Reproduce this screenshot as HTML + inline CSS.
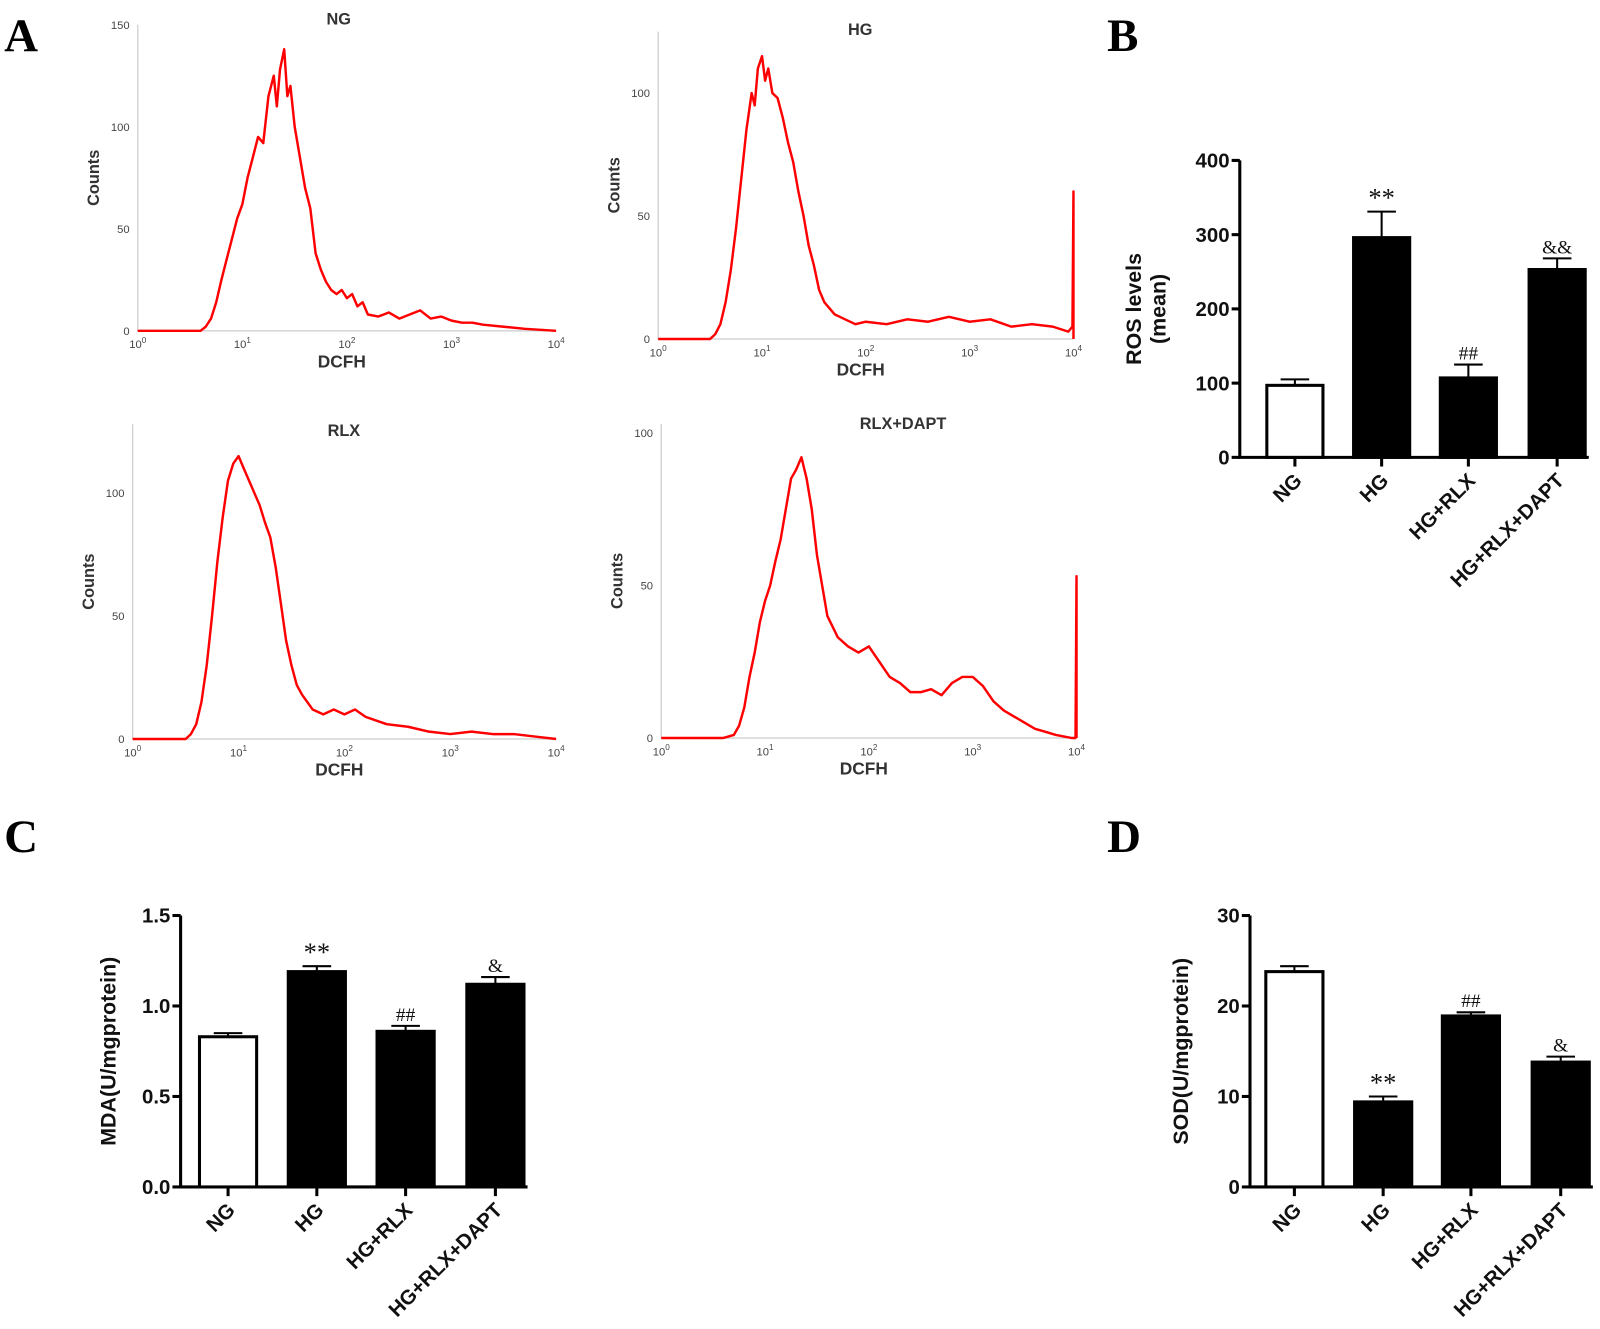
<!DOCTYPE html>
<html><head><meta charset="utf-8"><style>
html,body{margin:0;padding:0;background:#fff;}
svg{display:block;font-family:"Liberation Sans",Arial,sans-serif;}
</style></head><body>
<svg id="fig" width="1600" height="1329" viewBox="0 0 1568 1302" xmlns="http://www.w3.org/2000/svg">
<rect width="1568" height="1302" fill="#fff"/>
<g font-family="Liberation Serif,serif" font-weight="bold" font-size="46">
<text x="4" y="50">A</text>
<text x="1085" y="50">B</text>
<text x="4" y="835">C</text>
<text x="1085" y="835">D</text>
</g>
</svg>
<script>
// ---- histogram data (x in log10 decades, y in counts) ----
const ngX = [0,0.6,0.65,0.7,0.75,0.8,0.85,0.9,0.95,1.0,1.05,1.1,1.15,1.2,1.25,1.3,1.33,1.36,1.4,1.43,1.46,1.5,1.55,1.6,1.65,1.7,1.75,1.8,1.85,1.9,1.95,2.0,2.05,2.1,2.15,2.2,2.3,2.4,2.5,2.6,2.7,2.8,2.9,3.0,3.1,3.2,3.3,3.5,3.7,4.0];
const ngY = [0,0,2,6,14,25,35,45,55,62,75,85,95,92,115,125,110,128,138,115,120,100,85,70,60,38,30,24,20,18,20,16,18,12,14,8,7,9,6,8,10,6,7,5,4,4,3,2,1,0];
const hgX = [0,0.5,0.55,0.6,0.65,0.7,0.75,0.8,0.85,0.9,0.93,0.96,1.0,1.03,1.06,1.1,1.15,1.2,1.25,1.3,1.35,1.4,1.45,1.5,1.55,1.6,1.7,1.8,1.9,2.0,2.2,2.4,2.6,2.8,3.0,3.2,3.4,3.6,3.8,3.95,3.99,4.0,4.0];
const hgY = [0,0,2,6,15,28,45,65,85,100,95,110,115,105,110,100,98,90,80,72,60,50,38,30,20,15,10,8,6,7,6,8,7,9,7,8,5,6,5,3,5,60,0];
const rlxX = [0,0.5,0.55,0.6,0.65,0.7,0.75,0.8,0.85,0.9,0.95,1.0,1.05,1.1,1.15,1.2,1.25,1.3,1.35,1.4,1.45,1.5,1.55,1.6,1.7,1.8,1.9,2.0,2.1,2.2,2.4,2.6,2.8,3.0,3.2,3.4,3.6,3.8,4.0];
const rlxY = [0,0,2,6,15,30,50,72,90,105,112,115,110,105,100,95,88,82,70,55,40,30,22,18,12,10,12,10,12,9,6,5,3,2,3,2,2,1,0];
const daptX = [0,0.6,0.7,0.75,0.8,0.85,0.9,0.95,1.0,1.05,1.1,1.15,1.2,1.25,1.3,1.35,1.4,1.45,1.5,1.55,1.6,1.7,1.8,1.9,2.0,2.1,2.2,2.3,2.4,2.5,2.6,2.7,2.8,2.9,3.0,3.1,3.2,3.3,3.4,3.5,3.6,3.7,3.8,3.95,3.99,4.0,4.0];
const daptY = [0,0,1,4,10,20,28,38,45,50,58,65,75,85,88,92,85,75,60,50,40,33,30,28,30,25,20,18,15,15,16,14,18,20,20,17,12,9,7,5,3,2,1,0,0,53,0];
// ---- bar chart data ----
const groups = ["NG","HG","HG+RLX","HG+RLX+DAPT"];
const rosVals = [97,296,107,253];
const rosErr = [8,35,18,15];
const rosMarks = ["","**","##","&&"];
const rosTicks = [0,100,200,300,400];
const mdaVals = [0.83,1.19,0.86,1.12];
const mdaErr = [0.02,0.03,0.03,0.04];
const mdaMarks = ["","**","##","&"];
const mdaTicks = ["0.0","0.5","1.0","1.5"];
const sodVals = [23.8,9.4,18.9,13.8];
const sodErr = [0.6,0.6,0.4,0.6];
const sodMarks = ["","**","##","&"];
const sodTicks = [0,10,20,30];
const histTickExp = ["0","1","2","3","4"];

const svg = document.getElementById('fig');
const NS = 'http://www.w3.org/2000/svg';
function mk(tag, attrs, parent){const e=document.createElementNS(NS,tag);for(const k in attrs)e.setAttribute(k,attrs[k]);(parent||svg).appendChild(e);return e;}

function histogram(name,title,xs,ys,x0,x1,y0,yPerCount,ymax,yTicks,titleX,titleY){
  const g=mk('g',{});
  
  
  const sx=v=>x0+(x1-x0)*v/4, sy=v=>y0-v*yPerCount;
  const ax=mk('path',{d:`M${x0},${sy(ymax)} V${y0} H${x1}`,stroke:'#ccc','stroke-width':1.2,fill:'none'},g);
  
  
  yTicks.forEach(t=>{
    const tx=mk('text',{x:x0-8,y:sy(t)+4,'font-size':11,'text-anchor':'end',fill:'#444'},g);tx.textContent=t;
    
    
  });
  histTickExp.forEach((e,i)=>{
    const tx=mk('text',{x:sx(i),y:y0+17,'font-size':11,'text-anchor':'middle',fill:'#444'},g);
    tx.innerHTML='10<tspan dy="-5" font-size="8">'+e+'</tspan>';
    
    
  });
  let d='';xs.forEach((x,i)=>{d+=(i?'L':'M')+sx(x).toFixed(1)+','+sy(ys[i]).toFixed(1);});
  const p=mk('path',{d,stroke:'#f00','stroke-width':2.4,fill:'none','stroke-linejoin':'round'},g);
  
  
  const t=mk('text',{x:titleX,y:titleY,'font-size':16,'font-weight':'bold','text-anchor':'middle',fill:'#333'},g);t.textContent=title;
  
  
  const xl=mk('text',{x:(x0+x1)/2-5,y:y0+36,'font-size':17,'font-weight':'bold','text-anchor':'middle',fill:'#333'},g);xl.textContent='DCFH';
  
  
  const cy=(y0+sy(ymax))/2;
  const yl=mk('text',{x:x0-38,y:cy,'font-size':16,'font-weight':'bold','text-anchor':'middle',fill:'#333',transform:`rotate(-90 ${x0-38} ${cy})`},g);yl.textContent='Counts';
  
  
}
histogram('hist-ng','NG',ngX,ngY,135,545,324,2.0,150,[0,50,100,150],332,24);
histogram('hist-hg','HG',hgX,hgY,645,1052,332,2.41,125,[0,50,100],843,34);
histogram('hist-rlx','RLX',rlxX,rlxY,130,545,724,2.41,128,[0,50,100],337,427);
histogram('hist-rlx-dapt','RLX+DAPT',daptX,daptY,648,1055,723,2.99,103,[0,50,100],885,420);

function barChart(name,vals,errs,marks,ticks,ymaxV,axX,y0,yTop,barL,barW,title,titleX,labelFs){
  const g=mk('g',{});
  
  
  const sy=v=>y0-(y0-yTop)*v/ymaxV;
  const right=barL[3]+barW+2;
  const ax=mk('path',{d:`M${axX},${yTop} V${y0} H${right}`,stroke:'#000','stroke-width':3,fill:'none'},g);
  
  
  ticks.forEach(t=>{
    const v=parseFloat(t);
    mk('line',{x1:axX-8,x2:axX,y1:sy(v),y2:sy(v),stroke:'#000','stroke-width':3},g);
    const tx=mk('text',{x:axX-10,y:sy(v)+7,'font-size':20,'font-weight':'bold','text-anchor':'end',fill:'#111'},g);tx.textContent=t;
    
    
  });
  vals.forEach((v,i)=>{
    const x=barL[i], cx=x+barW/2;
    const ey=sy(v+errs[i]);
    mk('line',{x1:cx,x2:cx,y1:sy(v),y2:ey,stroke:'#000','stroke-width':2},g);
    mk('line',{x1:cx-14,x2:cx+14,y1:ey,y2:ey,stroke:'#000','stroke-width':2},g);
    const r=mk('rect',{x:x+1.5,y:sy(v),width:barW-3,height:y0-sy(v),fill:i===0?'#fff':'#000',stroke:'#000','stroke-width':3},g);
    
    
    mk('line',{x1:cx,x2:cx,y1:y0,y2:y0+9,stroke:'#000','stroke-width':3},g);
    if(marks[i]){
      const m=mk('text',{x:cx,y:ey-5,'font-size':marks[i]==='**'?26:19,'text-anchor':'middle',fill:'#111','font-family':'Liberation Serif,serif'},g);
      m.textContent=marks[i];
      
      
    }
    const lx=cx+8, ly=y0+24;
    const lt=mk('text',{x:lx,y:ly,'font-size':labelFs,'font-weight':'bold','text-anchor':'end',fill:'#111',transform:`rotate(-45 ${lx} ${ly})`},g);
    lt.textContent=groups[i];
    
    
  });
  const ty=(y0+yTop)/2;
  title.forEach((line,k)=>{
    const tx=titleX+k*24;
    const t=mk('text',{x:tx,y:ty,'font-size':21,'font-weight':'bold','text-anchor':'middle',fill:'#111',transform:`rotate(-90 ${tx} ${ty})`},g);
    t.textContent=line;
    
    
  });
}
barChart('ros-chart',rosVals,rosErr,rosMarks,rosTicks.map(String),400,1215,448,157,[1240,1325,1410,1497],58,['ROS levels','(mean)'],1118,20);
barChart('mda-chart',mdaVals,mdaErr,mdaMarks,mdaTicks,1.5,177,1163,897,[194,281,368,456],59,['MDA(U/mgprotein)'],113,20);
barChart('sod-chart',sodVals,sodErr,sodMarks,sodTicks.map(String),30,1225,1163,897,[1239,1326,1412,1500],59,['SOD(U/mgprotein)'],1164,20);
</script>
</body></html>
